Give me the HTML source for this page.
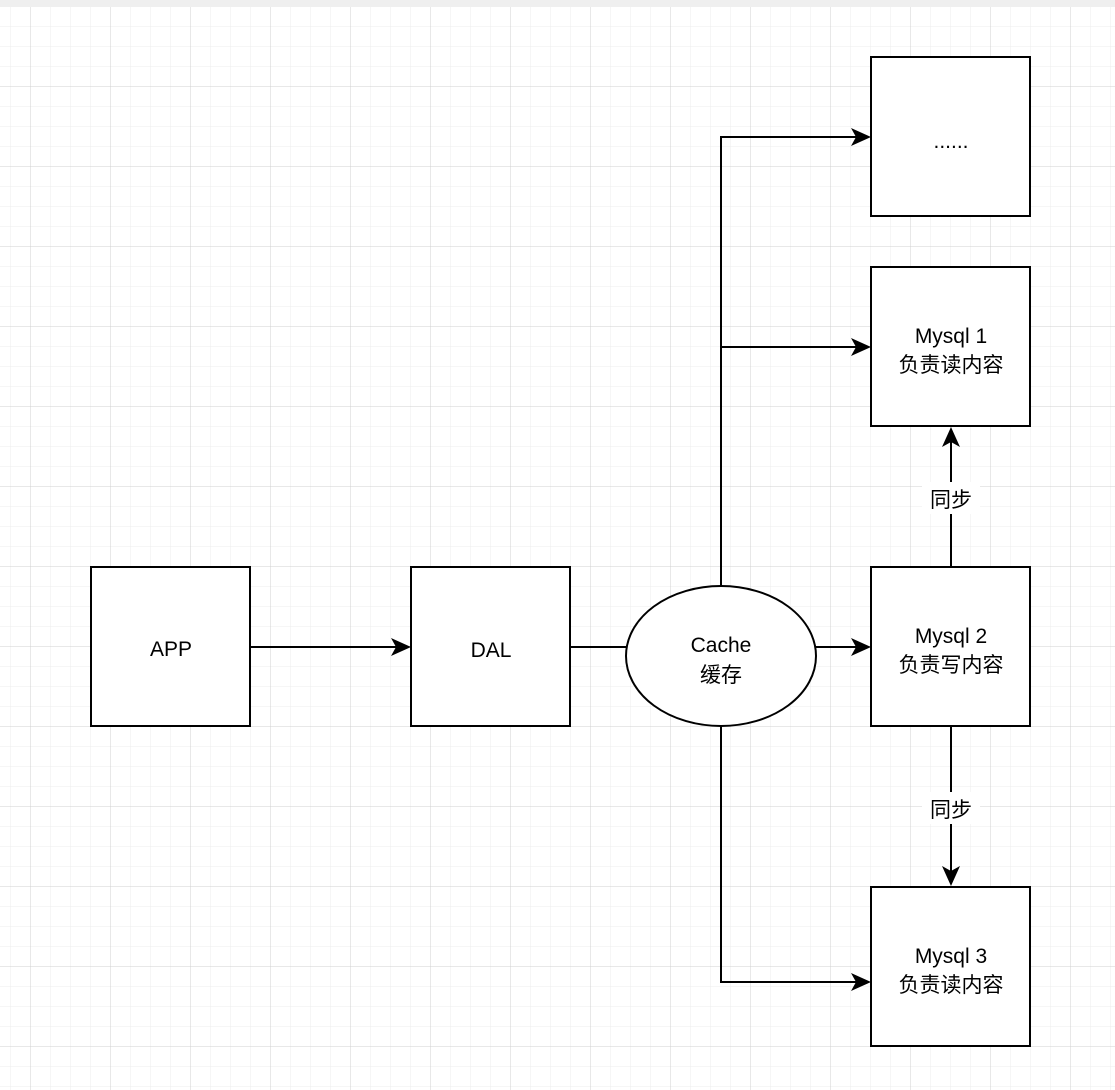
<!DOCTYPE html>
<html><head><meta charset="utf-8"><style>
html,body{margin:0;padding:0;background:#fff;}
svg{display:block}
</style></head><body>
<svg width="1115" height="1090" xmlns="http://www.w3.org/2000/svg" font-family="Liberation Sans, Noto Sans CJK SC, sans-serif">
<defs>
<pattern id="minor" x="10" y="6" width="20" height="20" patternUnits="userSpaceOnUse">
<path d="M0 0H20M0 0V20" stroke="#ececec" stroke-width="1" fill="none"/>
</pattern>
<pattern id="major" x="30" y="6" width="80" height="80" patternUnits="userSpaceOnUse">
<path d="M0 0H80M0 0V80" stroke="#d0d0d0" stroke-width="1" fill="none"/>
</pattern>
</defs>
<rect width="1115" height="1090" fill="url(#minor)"/>
<rect width="1115" height="1090" fill="url(#major)"/>
<rect x="0" y="0" width="1115" height="7" fill="#efefef"/>
<g stroke="#000" stroke-width="2" fill="#fff">
<rect x="91" y="567" width="159" height="159"/>
<rect x="411" y="567" width="159" height="159"/>
<rect x="871" y="57" width="159" height="159"/>
<rect x="871" y="267" width="159" height="159"/>
<rect x="871" y="567" width="159" height="159"/>
<rect x="871" y="887" width="159" height="159"/>
</g>
<g stroke="#000" stroke-width="2" fill="none">
<path d="M251 647H400"/>
<path d="M571 647H627"/>
<path d="M816 647H860"/>
<path d="M721 586V137H860"/>
<path d="M721 347H860"/>
<path d="M721 726V982H860"/>
<path d="M951 566V437"/>
<path d="M951 727V876"/>
</g>
<g fill="#000">
<path d="M411 647L391 638L396 647L391 656Z"/>
<path d="M871 647L851 638L856 647L851 656Z"/>
<path d="M871 137L851 128L856 137L851 146Z"/>
<path d="M871 347L851 338L856 347L851 356Z"/>
<path d="M871 982L851 973L856 982L851 991Z"/>
<path d="M951 427L942 447L951 442L960 447Z"/>
<path d="M951 886L942 866L951 871L960 866Z"/>
</g>
<ellipse cx="721" cy="656" rx="95" ry="70" fill="#fff" stroke="#000" stroke-width="2"/>
<g font-size="21" fill="#000" text-anchor="middle">
<text x="171" y="656">APP</text>
<text x="491" y="657">DAL</text>
<text x="951" y="148">......</text>
<text x="951" y="343">Mysql 1</text>
<text x="951" y="372">负责读内容</text>
<text x="951" y="643">Mysql 2</text>
<text x="951" y="672">负责写内容</text>
<text x="951" y="963">Mysql 3</text>
<text x="951" y="992">负责读内容</text>
<text x="721" y="652">Cache</text>
<text x="721" y="682">缓存</text>
<rect x="922" y="482" width="58" height="32" fill="#fff"/>
<text x="951" y="507">同步</text>
<rect x="922" y="792" width="58" height="32" fill="#fff"/>
<text x="951" y="817">同步</text>
</g>
</svg>
</body></html>
